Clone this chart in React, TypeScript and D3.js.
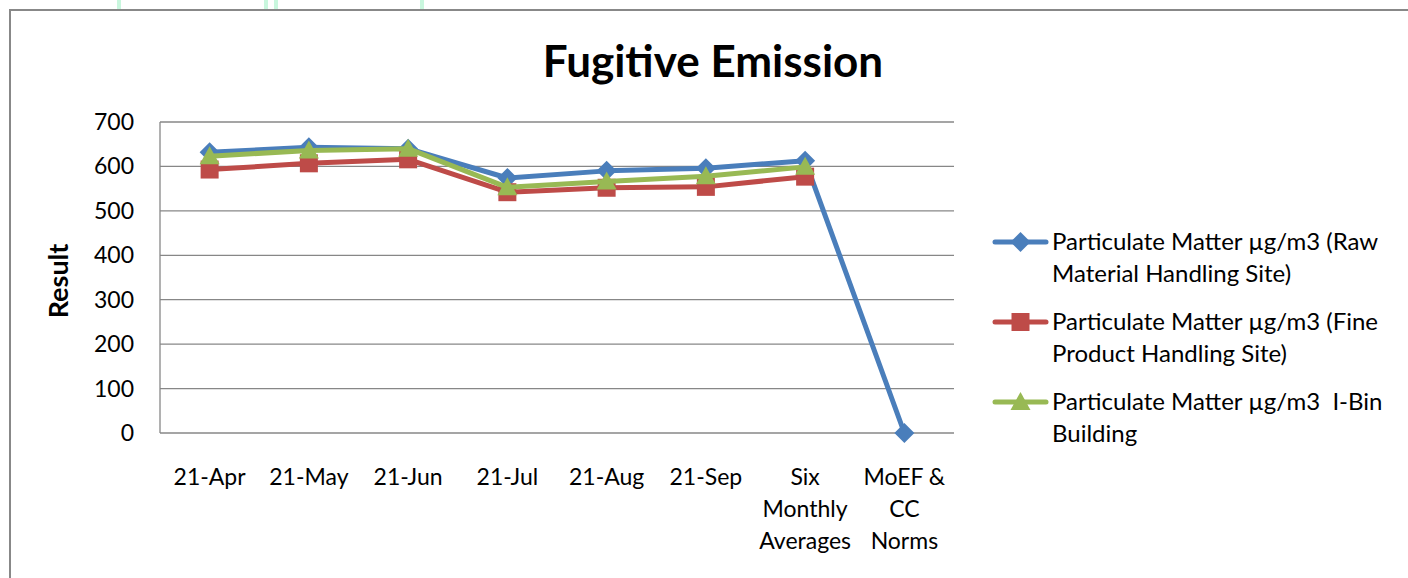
import { useEffect, useRef } from "react";
import * as d3 from "d3";

const categories = [
  ["21-Apr"],
  ["21-May"],
  ["21-Jun"],
  ["21-Jul"],
  ["21-Aug"],
  ["21-Sep"],
  ["Six", "Monthly", "Averages"],
  ["MoEF &", "CC", "Norms"],
];
const rawMaterial = [632, 643, 640, 574, 590, 596, 613, 0];
const fineProduct = [593, 607, 616, 542, 552, 554, 577, null];
const iBin = [623, 636, 640, 553, 566, 578, 599, null];
const yTicks = [0, 100, 200, 300, 400, 500, 600, 700];

const seriesNames = [
  ["Particulate Matter µg/m3 (Raw", "Material Handling Site)"],
  ["Particulate Matter µg/m3 (Fine", "Product Handling Site)"],
  ["Particulate Matter µg/m3  I-Bin", "Building"],
];

const W = 1408;
const H = 578;
const font = "Lato, 'Open Sans', sans-serif";

// excel-ish marker shapes
const markerPath = {
  diamond: "M0,-10L10,0L0,10L-10,0Z",
  square: "M-9,-9H9V9H-9Z",
  triangle: "M0,-10L10,8H-10Z",
};

const App = () => {
  const ref = useRef(null);

  useEffect(() => {
    const svg = d3.select(ref.current);
    svg.selectAll("*").remove();

    const plot = { left: 160, right: 954, top: 122, bottom: 433 };

    // faint green bits peeking over the top edge
    [
      [117, 4],
      [264, 4],
      [274, 4],
      [420, 4],
    ].forEach(([x, w]) =>
      svg.append("rect").attr("x", x).attr("y", 0).attr("width", w).attr("height", 9).attr("fill", "#c9f7de")
    );

    // outer border
    svg
      .append("rect")
      .attr("x", 10)
      .attr("y", 10)
      .attr("width", W + 20)
      .attr("height", H + 20)
      .attr("fill", "white")
      .attr("stroke", "#888")
      .attr("stroke-width", 2);

    const x = d3
      .scaleBand()
      .domain(categories.map((d, i) => String(i)))
      .range([plot.left, plot.right]);
    const y = d3.scaleLinear().domain([0, 700]).range([plot.bottom, plot.top]);
    const cx = (i) => x(String(i)) + x.bandwidth() / 2;

    // gridlines
    svg
      .append("g")
      .selectAll("line")
      .data(yTicks.filter((t) => t > 0))
      .join("line")
      .attr("x1", plot.left)
      .attr("x2", plot.right)
      .attr("y1", (d) => y(d))
      .attr("y2", (d) => y(d))
      .attr("stroke", "#878787")
      .attr("stroke-width", 1.3);

    // axes
    svg
      .append("line")
      .attr("x1", plot.left)
      .attr("x2", plot.left)
      .attr("y1", plot.top)
      .attr("y2", plot.bottom)
      .attr("stroke", "#878787")
      .attr("stroke-width", 1.3);
    svg
      .append("line")
      .attr("x1", plot.left)
      .attr("x2", plot.right)
      .attr("y1", plot.bottom)
      .attr("y2", plot.bottom)
      .attr("stroke", "#878787")
      .attr("stroke-width", 1.3);

    // y tick labels
    svg
      .append("g")
      .selectAll("text")
      .data(yTicks)
      .join("text")
      .attr("x", 134)
      .attr("y", (d) => y(d) + 8)
      .attr("text-anchor", "end")
      .style("font-family", font)
      .style("font-size", "23px")
      .attr("fill", "#000")
      .text((d) => d);

    // x tick labels
    const xl = svg.append("g");
    categories.forEach((lines, i) => {
      lines.forEach((t, k) => {
        xl.append("text")
          .attr("x", cx(i))
          .attr("y", 485 + k * 32)
          .attr("text-anchor", "middle")
          .style("font-family", font)
          .style("font-size", "23px")
          .attr("fill", "#000")
          .text(t);
      });
    });

    // title
    svg
      .append("text")
      .attr("x", 713)
      .attr("y", 77)
      .attr("text-anchor", "middle")
      .style("font-family", font)
      .style("font-size", "44px")
      .style("font-weight", "bold")
      .text("Fugitive Emission");

    // y axis title
    svg
      .append("text")
      .attr("transform", `translate(68, 281) rotate(-90)`)
      .attr("text-anchor", "middle")
      .style("font-family", font)
      .style("font-size", "27px")
      .style("font-weight", "bold")
      .text("Result");

    const series = [
      { values: rawMaterial, color: "#4a7ebb", shape: markerPath.diamond },
      { values: fineProduct, color: "#be4b48", shape: markerPath.square },
      { values: iBin, color: "#98b954", shape: markerPath.triangle },
    ];

    const line = d3
      .line()
      .defined((d) => d != null)
      .x((d, i) => cx(i))
      .y((d) => y(d));

    series.forEach((s) => {
      const g = svg.append("g");
      g.append("path")
        .datum(s.values)
        .attr("d", line)
        .attr("fill", "none")
        .attr("stroke", s.color)
        .attr("stroke-width", 5)
        .attr("stroke-linejoin", "round");
      g.selectAll("path.m")
        .data(s.values.map((v, i) => ({ v, i })).filter((d) => d.v != null))
        .join("path")
        .attr("class", "m")
        .attr("transform", (d) => `translate(${cx(d.i)},${y(d.v)})`)
        .attr("d", s.shape)
        .attr("fill", s.color);
    });

    // legend
    const lg = svg.append("g");
    series.forEach((s, i) => {
      const ly = 242 + i * 80;
      lg.append("line")
        .attr("x1", 995)
        .attr("x2", 1046)
        .attr("y1", ly)
        .attr("y2", ly)
        .attr("stroke", s.color)
        .attr("stroke-width", 5)
        .attr("stroke-linecap", "round");
      lg.append("path")
        .attr("transform", `translate(1020.5,${ly})`)
        .attr("d", s.shape)
        .attr("fill", s.color);
      seriesNames[i].forEach((t, k) => {
        lg.append("text")
          .attr("x", 1052)
          .attr("y", ly + 8 + k * 32)
          .style("font-family", font)
          .style("font-size", "24px")
          .style("white-space", "pre")
          .attr("fill", "#000")
          .text(t);
      });
    });
  }, []);

  return (
    <svg
      ref={ref}
      width={W}
      height={H}
      style={{ position: "absolute", left: 0, top: 0, background: "white" }}
    />
  );
};

export default App;
